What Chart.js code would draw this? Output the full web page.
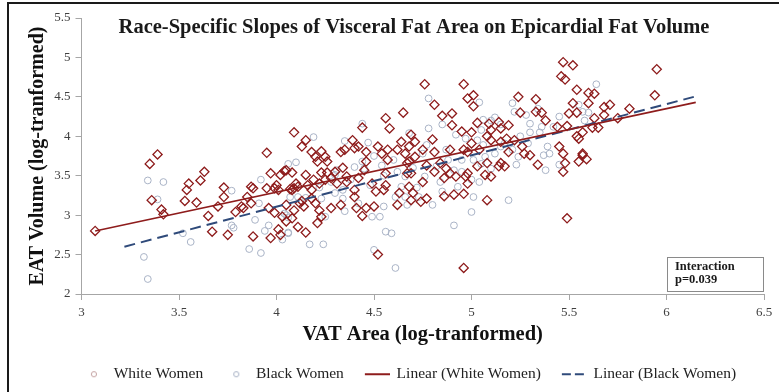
<!DOCTYPE html>
<html>
<head>
<meta charset="utf-8">
<script src="https://cdn.jsdelivr.net/npm/chart.js@4.4.1/dist/chart.umd.min.js"></script>
<style>
  html, body { margin: 0; padding: 0; background: #fff; }
  #wrap { position: relative; width: 779px; height: 392px; }
  #frame { position: absolute; left: 7px; top: 2px; right: 0; bottom: 0;
           border-left: 2px solid #1a1a1a; border-top: 2px solid #1a1a1a; pointer-events: none; }
</style>
</head>
<body>
<div id="wrap">
  <canvas id="chartVat"></canvas>
  <div id="frame"></div>
</div>
<script>
// --- dati (x = VAT log, y = EAT log) ---
var whiteWomen = [
  [3.07,2.80],[3.35,3.65],[3.39,3.77],[3.36,3.19],[3.41,3.07],[3.42,3.01],[3.53,3.18],[3.54,3.32],
  [3.55,3.40],[3.59,3.16],[3.61,3.44],[3.63,3.55],[3.65,2.99],[3.67,2.79],[3.70,3.11],[3.73,3.23],
  [3.73,3.35],[3.75,2.75],[3.79,3.04],[3.83,3.09],[3.85,3.23],[3.87,3.15],[3.88,3.34],[3.88,2.73],
  [3.95,3.79],[3.96,3.09],[3.97,2.71],[3.97,3.53],[3.95,3.34],[3.99,3.34],[4.01,3.32],[3.99,3.03],
  [4.01,2.82],[4.02,2.75],[4.02,3.51],[4.04,3.56],[4.08,3.54],[4.09,4.05],[4.05,2.92],[4.08,2.96],
  [4.09,3.06],[4.08,3.32],[4.11,2.85],[4.13,3.87],[4.15,3.95],[4.15,3.51],[4.15,2.78],[4.12,3.15],
  [4.14,3.11],[4.16,3.38],[3.87,3.36],[3.82,3.11],[4.05,3.57],[4.07,3.33],[4.09,3.34],[4.11,3.36],
  [4.05,3.13],[4.13,3.18],[4.03,2.98],[4.00,3.38],[4.10,3.40],[4.19,3.45],[4.28,3.47],[4.31,3.40],
  [4.36,3.42],[4.30,3.55],[4.34,3.60],
  [4.21,2.90],[4.18,3.80],[4.20,3.74],[4.21,3.68],[4.23,3.81],[4.25,3.74],[4.26,3.68],[4.23,3.54],
  [4.26,3.54],[4.25,3.45],[4.22,3.40],[4.18,3.32],[4.18,3.21],[4.20,3.15],[4.22,3.06],[4.23,2.98],
  [4.28,3.09],[4.33,3.13],[4.36,3.49],[4.33,3.80],[4.35,3.83],[4.39,3.95],[4.40,3.85],[4.42,3.87],
  [4.44,4.11],[4.46,3.80],[4.46,3.68],[4.45,3.57],[4.42,3.47],[4.40,3.32],[4.40,3.23],[4.41,3.09],
  [4.44,2.99],[4.46,3.09],[4.50,3.11],[4.51,3.30],[4.49,3.40],[4.52,3.87],[4.54,3.78],[4.56,4.23],
  [4.58,4.10],[4.57,3.83],[4.57,3.70],[4.56,3.53],[4.56,3.38],[4.55,3.32],[4.62,3.13],[4.63,3.28],
  [4.65,4.30],[4.64,3.93],[4.62,3.83],[4.66,3.78],[4.68,3.68],[4.67,3.53],[4.52,2.50],
  [4.76,4.66],[4.96,4.66],[4.98,4.48],[5.01,4.52],[5.01,4.38],[4.81,4.40],[4.85,4.26],[4.90,4.29],
  [4.90,4.14],[4.95,4.06],[5.00,4.05],[5.03,4.17],[5.09,4.16],[5.10,4.08],[5.14,4.18],[5.15,4.10],
  [5.19,4.14],[5.24,4.50],[5.25,4.30],[5.33,4.47],[5.33,4.31],[5.36,4.30],[5.38,4.20],[5.47,4.94],
  [5.52,4.90],[5.46,4.76],[5.48,4.72],[5.52,4.42],[5.50,4.29],[5.54,4.30],[5.54,4.59],[5.49,4.13],
  [5.44,4.12],[5.54,4.00],[5.45,3.87],[5.47,3.78],[5.48,3.66],[5.47,3.55],[5.57,3.76],[5.49,2.96],
  [4.96,2.33],[4.69,4.02],[4.71,3.93],[4.68,3.87],[4.80,3.96],[4.75,3.83],[4.81,3.80],[4.84,3.66],
  [4.89,3.83],[4.96,3.83],[4.98,3.80],[5.00,3.91],[5.04,3.83],[5.08,4.00],[5.10,3.95],[5.15,3.93],
  [5.18,3.97],[5.19,3.80],[5.15,3.66],[5.17,3.62],[5.14,3.62],[5.08,3.66],[5.07,3.51],[5.10,3.49],
  [5.22,3.95],[5.26,3.87],[5.27,3.78],[5.30,3.76],[5.34,3.64],[5.08,3.19],[4.86,3.24],[4.91,3.26],
  [4.96,3.27],[4.98,3.53],[4.97,3.49],[4.98,3.40],[5.03,3.62],[4.92,3.49],[4.89,3.53],[4.86,3.47],
  [4.87,3.59],[4.81,3.55],[4.77,3.63],[4.71,3.74],[4.67,3.66],[4.69,3.53],[4.75,3.42],[4.68,3.36],
  [4.70,3.28],[4.77,3.21],[4.74,3.17],[4.69,3.19],[5.55,3.68],
  [5.95,4.85],[5.94,4.52],[5.81,4.35],[5.75,4.23],[5.71,4.40],[5.68,4.37],[5.68,4.27],[5.63,4.54],
  [5.60,4.55],[5.60,4.42],[5.63,4.23],[5.62,4.11],[5.65,4.11],[5.57,4.05],[5.55,3.97],[5.57,3.78],
  [5.59,3.71]
];

var blackWomen = [
  [3.34,3.44],[3.32,2.47],[3.34,2.19],[3.42,3.42],[3.39,3.20],[3.52,2.77],[3.56,2.66],[3.77,3.31],
  [3.77,2.87],[3.78,2.84],[3.86,2.57],[3.89,2.94],[3.92,3.45],[3.91,3.15],[3.92,2.52],[3.94,2.80],
  [3.96,2.87],[4.03,2.69],[4.06,3.65],[4.10,3.67],[4.06,2.78],[4.04,3.02],[4.06,2.97],[4.11,3.23],
  [4.17,2.63],[4.19,3.99],[4.35,3.94],[4.47,3.92],[4.44,4.16],[4.07,3.23],[4.05,3.00],[4.06,2.77],
  [4.24,2.63],[4.23,3.21],[4.25,2.98],[4.28,3.42],[4.31,3.57],[4.30,3.51],[4.34,3.32],[4.34,3.21],
  [4.40,3.61],[4.44,3.68],[4.45,3.59],[4.42,3.15],[4.49,2.98],[4.53,2.98],[4.55,3.11],[4.56,2.79],
  [4.59,2.77],[4.61,2.33],[4.54,3.63],[4.61,3.23],[4.64,3.36],[4.66,3.23],[4.68,4.04],[4.50,2.56],
  [4.78,4.48],[5.04,4.43],[4.78,4.10],[4.85,4.15],[4.92,4.02],[4.97,3.97],[5.05,4.08],[5.06,3.89],
  [5.10,4.20],[5.21,4.42],[5.22,4.31],[5.28,4.27],[5.30,4.16],[5.34,4.35],[5.36,4.12],[5.55,4.40],
  [5.42,4.12],[4.77,3.89],[4.75,3.78],[4.87,3.83],[5.03,3.95],[5.17,3.91],[5.21,3.83],[5.24,3.74],
  [5.23,3.64],[5.29,3.91],[5.39,3.87],[5.40,3.78],[5.37,3.76],[5.38,3.57],[5.45,3.64],[5.19,3.19],
  [5.00,3.04],[4.91,2.87],[5.01,3.23],[5.04,3.42],[5.10,3.59],[4.80,3.13],[4.67,3.13],[4.73,3.23],
  [4.93,3.36],[4.84,3.42],[4.91,3.57],[4.95,3.70],[5.01,3.70],[5.07,3.74],[4.66,3.49],[4.76,3.49],
  [5.64,4.66],[5.57,4.31],[5.06,4.21],[5.12,4.24],[5.15,4.15],
  [4.38,3.45],[4.48,3.38],[4.55,3.50],[4.62,3.55],[4.70,3.60],[4.82,3.62],[4.88,3.70],[4.95,3.55],
  [5.05,3.65],[5.12,3.78],[5.15,3.87],[5.25,4.00],[5.30,4.05],[4.30,3.28],[4.22,3.35],[4.15,3.22],
  [4.35,3.05],[4.72,3.35],[4.85,3.30],[5.00,3.45],[4.60,3.70],[4.50,3.75],[5.45,4.25],[5.35,4.05],
  [5.60,4.30],[5.58,4.20]
];

// estremi delle rette di regressione
var lineaWhite = [[3.07,2.80],[6.15,4.43]];
var lineaBlack = [[3.22,2.60],[6.14,4.50]];

var xTicks = [3, 3.5, 4, 4.5, 5, 5.5, 6, 6.5];
var yTicks = [2, 2.5, 3, 3.5, 4, 4.5, 5, 5.5];

var SERIF = "'Liberation Serif', 'Times New Roman', serif";
var ROSSO = '#8e1c1c';
var BLU = '#2f4a7a';
var GRIGIO_PUNTI = '#a9b3c6';
var GRIGIO_ASSI = '#a6a6a6';

function aPunti(arr) {
    return arr.map(function (p) { return { x: p[0], y: p[1] }; });
}

// icone della legenda (piccoli canvas)
function iconaCerchio(colore) {
    var c = document.createElement('canvas');
    c.width = 24; c.height = 12;
    var g = c.getContext('2d');
    g.strokeStyle = colore; g.lineWidth = 1;
    g.beginPath(); g.arc(12, 6, 2.6, 0, Math.PI * 2); g.stroke();
    return c;
}
function iconaLinea(colore, dash) {
    var c = document.createElement('canvas');
    c.width = 26; c.height = 12;
    var g = c.getContext('2d');
    g.strokeStyle = colore; g.lineWidth = 2;
    g.setLineDash(dash);
    g.beginPath(); g.moveTo(1, 6); g.lineTo(26, 6); g.stroke();
    return c;
}
var iconeLegenda = [
    iconaCerchio('#c4a2a2'),
    iconaCerchio(GRIGIO_PUNTI),
    iconaLinea(ROSSO, []),
    iconaLinea(BLU, [9, 4])
];

// titolo e riquadro "Interaction" disegnati sopra l'area del grafico
var decorazioni = {
    id: 'decorazioni',
    afterLayout: function (chart) {
        // la legenda dell'originale e' un po' spostata a destra
        if (chart.legend) { chart.legend.left += 16; chart.legend.right += 16; }
    },
    afterDraw: function (chart) {
        var ctx = chart.ctx;
        var area = chart.chartArea;
        ctx.save();
        ctx.fillStyle = '#1a1a1a';
        ctx.font = 'bold 20.5px ' + SERIF;
        ctx.textAlign = 'center';
        ctx.textBaseline = 'middle';
        ctx.fillText('Race-Specific Slopes of Visceral Fat Area on Epicardial Fat Volume', 414, 28);

        var bx = area.right - 97, by = area.bottom - 37, bw = 96, bh = 34;
        ctx.fillStyle = '#fff';
        ctx.fillRect(bx, by, bw, bh);
        ctx.strokeStyle = '#8a8a8a';
        ctx.lineWidth = 1;
        ctx.strokeRect(bx + 0.5, by + 0.5, bw, bh);
        ctx.fillStyle = '#1a1a1a';
        ctx.font = 'bold 12.5px ' + SERIF;
        ctx.textAlign = 'left';
        ctx.fillText('Interaction', bx + 8, by + 10);
        ctx.fillText('p=0.039', bx + 8, by + 23);
        ctx.restore();
    }
};

var ctxVat = document.getElementById('chartVat').getContext('2d');
new Chart(ctxVat, {
    type: 'scatter',
    data: {
        datasets: [
            {
                label: 'White Women',
                data: aPunti(whiteWomen),
                pointStyle: 'rectRot',
                pointRadius: 4.6,
                pointBorderWidth: 1.3,
                borderColor: ROSSO,
                backgroundColor: 'rgba(255,255,255,0)',
                order: 2
            },
            {
                label: 'Black Women',
                data: aPunti(blackWomen),
                pointStyle: 'circle',
                pointRadius: 3.4,
                pointBorderWidth: 1,
                borderColor: GRIGIO_PUNTI,
                backgroundColor: 'rgba(255,255,255,0)',
                order: 3
            },
            {
                type: 'line',
                label: 'Linear (White Women)',
                data: aPunti(lineaWhite),
                borderColor: ROSSO,
                borderWidth: 1.6,
                pointRadius: 0,
                fill: false,
                order: 0
            },
            {
                type: 'line',
                label: 'Linear (Black Women)',
                data: aPunti(lineaBlack),
                borderColor: BLU,
                borderWidth: 2,
                borderDash: [11, 6],
                pointRadius: 0,
                fill: false,
                order: 1
            }
        ]
    },
    options: {
        responsive: true,
        maintainAspectRatio: false,
        animation: false,
        layout: { padding: { left: 22, right: 15, top: 18, bottom: 0 } },
        plugins: {
            tooltip: { enabled: false },
            legend: {
                position: 'bottom',
                labels: {
                    usePointStyle: true,
                    pointStyleWidth: 24,
                    boxHeight: 12,
                    padding: 21,
                    color: '#222',
                    font: { family: SERIF, size: 15.5 },
                    generateLabels: function (chart) {
                        return chart.data.datasets.map(function (ds, i) {
                            return {
                                text: ds.label,
                                pointStyle: iconeLegenda[i],
                                datasetIndex: i,
                                hidden: false,
                                fillStyle: 'transparent',
                                strokeStyle: 'transparent',
                                lineWidth: 0,
                                fontColor: '#222'
                            };
                        });
                    }
                }
            }
        },
        scales: {
            x: {
                type: 'linear',
                min: 3,
                max: 6.5,
                afterBuildTicks: function (s) { s.ticks = xTicks.map(function (v) { return { value: v }; }); },
                afterFit: function (s) { s.height = 51.5; },
                ticks: {
                    color: '#404040', font: { family: SERIF, size: 13 }, padding: 5,
                    callback: function (v) { return String(v); }
                },
                grid: { drawOnChartArea: false, tickLength: 6, color: GRIGIO_ASSI },
                border: { color: GRIGIO_ASSI },
                title: {
                    display: true,
                    text: 'VAT Area (log-tranformed)',
                    color: '#111',
                    font: { family: SERIF, size: 20.5, weight: 'bold' },
                    padding: { top: 4, bottom: -2 }
                }
            },
            y: {
                type: 'linear',
                min: 2,
                max: 5.5,
                afterBuildTicks: function (s) { s.ticks = yTicks.map(function (v) { return { value: v }; }); },
                afterFit: function (s) { s.width = 59.5; },
                ticks: {
                    color: '#404040', font: { family: SERIF, size: 13 }, padding: 5,
                    callback: function (v) { return String(v); }
                },
                grid: { drawOnChartArea: false, tickLength: 6, color: GRIGIO_ASSI },
                border: { color: GRIGIO_ASSI },
                title: {
                    display: true,
                    text: 'EAT Volume (log-tranformed)',
                    color: '#111',
                    font: { family: SERIF, size: 20, weight: 'bold' },
                    padding: { top: 4, bottom: 4 }
                }
            }
        }
    },
    plugins: [decorazioni]
});
</script>
</body>
</html>
